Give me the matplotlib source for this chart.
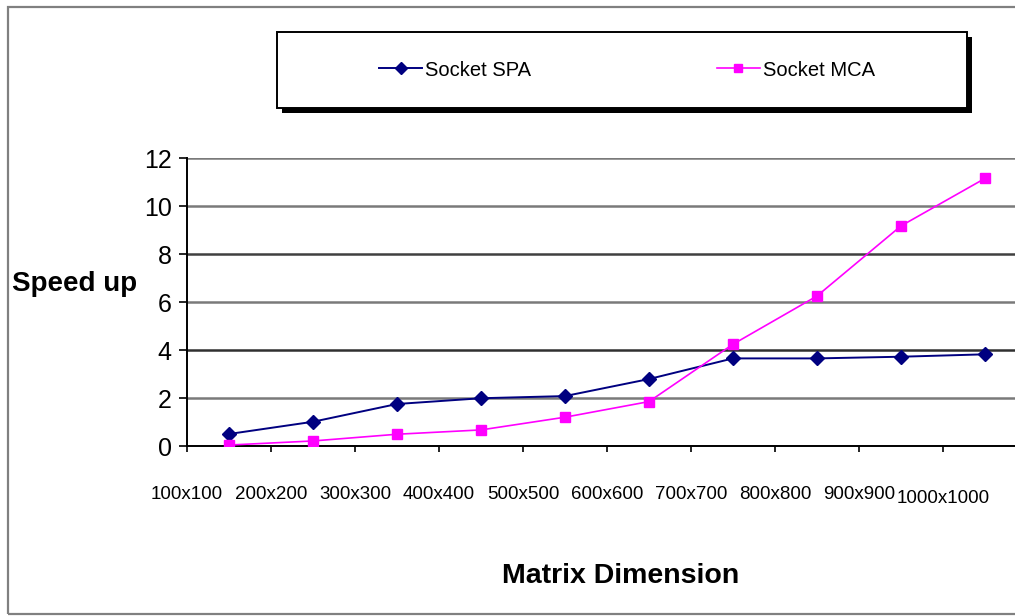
import matplotlib
matplotlib.use("Agg")
import matplotlib.pyplot as plt
from matplotlib.patches import Rectangle
from matplotlib.transforms import ScaledTranslation

plt.rcParams['font.family'] = ['Liberation Sans', 'DejaVu Sans']

# Data
dimensions = ["100x100", "200x200", "300x300", "400x400", "500x500",
              "600x600", "700x700", "800x800", "900x900", "1000x1000"]
socket_spa = [0.50, 1.01, 1.75, 1.99, 2.08, 2.79, 3.65, 3.65, 3.72, 3.82]
socket_mca = [0.04, 0.21, 0.49, 0.67, 1.20, 1.85, 4.24, 6.25, 9.17, 11.15]
y_ticks = [0, 2, 4, 6, 8, 10, 12]

W, H = 1015, 616
fig = plt.figure(figsize=(W / 100, H / 100), dpi=100)

# Outer chart frame (open on the right edge)
fig.add_artist(Rectangle((8 / W, 1 - 614 / H), 1.1, (614 - 7) / H,
                         transform=fig.transFigure, fill=False,
                         edgecolor='#808080', linewidth=1.6))

# Plot area
ax = fig.add_axes([187 / W, 1 - 446 / H, (1027 - 187) / W, (446 - 158) / H])
x = list(range(len(dimensions)))

ax.plot(x, socket_spa, color='#000080', marker='D', markersize=7,
        linewidth=1.4, label='Socket SPA', zorder=3)
ax.plot(x, socket_mca, color='#ff00ff', marker='s', markersize=7.5,
        linewidth=1.2, label='Socket MCA', zorder=3)

ax.set_xlim(-0.5, len(dimensions) - 0.5)
ax.set_ylim(0, 12)

# Category labels sit on the boundaries between categories
ax.set_xticks([i - 0.5 for i in x], dimensions)
ax.set_yticks(y_ticks)
ax.tick_params(axis='x', direction='out', length=4, width=1.2, pad=25,
               labelsize=13.5, color='black')
ax.tick_params(axis='y', direction='out', length=6, width=1.2, pad=5,
               labelsize=18, color='black')
last = ax.get_xticklabels()[-1]
last.set_transform(last.get_transform() +
                   ScaledTranslation(0, -4 / 100, fig.dpi_scale_trans))

for side in ('top', 'right'):
    ax.spines[side].set_visible(False)
for side in ('left', 'bottom'):
    ax.spines[side].set_linewidth(1.4)
    ax.spines[side].set_color('black')

ax.yaxis.grid(True, color='#7a7a7a', linewidth=1.8)
ax.set_axisbelow(True)
grid_shades = {4: '#303030', 8: '#404040'}
for val, gl in zip(y_ticks, ax.yaxis.get_gridlines()):
    if val in grid_shades:
        gl.set_color(grid_shades[val])

# Axis titles
fig.text(12 / W, 1 - 284 / H, 'Speed up', fontsize=20, fontweight='bold',
         ha='left', va='center')
fig.text(621 / W, 1 - 576 / H, 'Matrix Dimension', fontsize=20.5,
         fontweight='bold', ha='center', va='center')

# Legend box with a solid drop shadow
bx0, by0, bx1, by1 = 277, 32, 967, 108
fig.add_artist(Rectangle(((bx0 + 5) / W, 1 - (by1 + 5) / H),
                         (bx1 - bx0) / W, (by1 - by0) / H,
                         transform=fig.transFigure, facecolor='black',
                         edgecolor='black', linewidth=0))
fig.add_artist(Rectangle((bx0 / W, 1 - by1 / H), (bx1 - bx0) / W,
                         (by1 - by0) / H, transform=fig.transFigure,
                         facecolor='white', edgecolor='black', linewidth=1.4))
fig.legend(loc='center', bbox_to_anchor=(627 / W, 1 - 70 / H), ncol=2,
           frameon=False, fontsize=14.5, handlelength=2.15, handletextpad=0.15,
           columnspacing=9.2, borderpad=0, markerscale=0.85)

fig.savefig('out.png', dpi=100)
